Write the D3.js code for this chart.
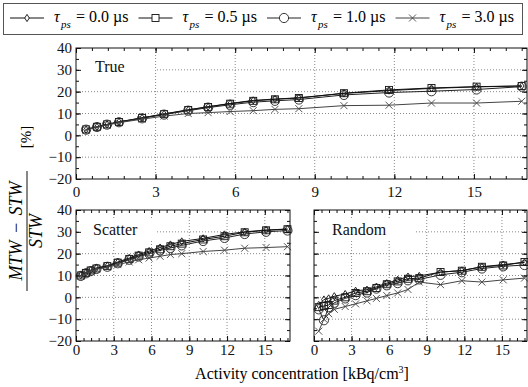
<!DOCTYPE html>
<html>
<head>
<meta charset="utf-8">
<script src="https://cdn.jsdelivr.net/npm/d3@7"></script>
<style>
  html, body { margin: 0; padding: 0; background: #fff; }
  svg { display: block; font-family: "Liberation Serif", "Times New Roman", "DejaVu Serif", serif; }
</style>
</head>
<body>
<svg id="chart" width="528" height="387"></svg>
<script>
// activity concentration [kBq/cm3], shared by all panels
const concentration = [0.38, 0.79, 1.17, 1.62, 2.49, 3.32, 4.23, 4.98, 5.81, 6.68, 7.5, 8.4, 10.1, 11.8, 13.4, 15.1, 16.8];
const tauLabels = ["0.0", "0.5", "1.0", "3.0"];
const xTicks = [0, 3, 6, 9, 12, 15];
const yTicks = [-20, -10, 0, 10, 20, 30, 40];

// True
const true00 = [2.6, 3.9, 5.0, 6.2, 8.0, 9.8, 11.7, 13.1, 14.6, 16.0, 16.6, 17.2, 19.2, 20.5, 21.5, 22.2, 22.6];
const true05 = [2.7, 3.9, 5.0, 6.1, 8.0, 9.7, 11.6, 13.0, 14.5, 15.8, 16.5, 17.1, 19.3, 20.8, 21.7, 22.3, 22.6];
const true10 = [2.6, 3.8, 4.9, 6.0, 7.8, 9.5, 11.3, 12.7, 14.0, 15.2, 15.8, 16.4, 18.5, 19.6, 20.2, 21.0, 22.3];
const true30 = [2.5, 3.7, 4.7, 5.8, 7.4, 8.8, 10.0, 10.4, 10.9, 11.3, 11.9, 12.2, 13.6, 13.8, 14.8, 14.8, 15.6];

// Scatter
const scatter00 = [10.2, 11.4, 12.5, 13.5, 14.5, 16.2, 18.0, 19.6, 21.2, 22.8, 24.2, 25.6, 27.0, 28.8, 30.0, 30.8, 31.3];
const scatter05 = [10.0, 11.2, 12.3, 13.2, 14.3, 15.9, 17.6, 19.1, 20.6, 22.0, 23.4, 24.6, 26.5, 28.0, 29.8, 30.7, 31.2];
const scatter10 = [9.8, 11.0, 12.0, 13.0, 14.0, 15.6, 17.2, 18.7, 20.0, 21.5, 22.6, 23.8, 25.8, 27.2, 29.0, 30.0, 30.6];
const scatter30 = [9.9, 11.0, 12.0, 12.9, 13.8, 15.0, 16.2, 17.2, 18.0, 18.8, 19.6, 20.0, 21.0, 21.6, 22.5, 22.8, 23.2];

// Random
const random00 = [-3.5, -1.0, -0.5, 0.5, 1.5, 3.0, 3.5, 4.8, 6.5, 8.0, 9.5, 9.8, 11.5, 12.3, 14.0, 15.0, 16.0];
const random05 = [-4.5, -4.0, -3.5, -1.5, 0.0, 2.0, 2.8, 4.3, 6.0, 7.3, 8.5, 8.8, 11.6, 12.2, 14.0, 14.6, 16.2];
const random10 = [-5.5, -10.5, -4.5, -2.5, -0.5, 1.0, 2.2, 4.0, 5.5, 6.5, 7.8, 8.2, 10.3, 11.5, 13.2, 14.2, 14.8];
const random30 = [-15.5, -10.0, -7.5, -5.5, -4.2, -3.0, -1.6, -0.5, 0.8, 2.0, 3.6, 7.0, 5.8, 7.6, 7.0, 8.0, 8.8];

const svg = d3.select('#chart');
const serif = '"Liberation Serif", "Times New Roman", serif';

// marker shapes, one per tau
const markers = [
  g => g.append('path').attr('d', 'M0,-3.6L2.3,0L0,3.6L-2.3,0Z'),
  g => g.append('rect').attr('x', -3.5).attr('y', -3.5).attr('width', 7).attr('height', 7),
  g => g.append('circle').attr('r', 4.6),
  g => g.append('path').attr('d', 'M-3.5,-3.5L3.5,3.5M-3.5,3.5L3.5,-3.5')
];
const lineColors = ['#111', '#111', '#222', '#444'];

const panels = [
  { title: 'True', x: [76, 527], y: [179, 48], series: [true00, true05, true10, true30], yLabels: true, labelPad: 7, titlePos: [95, 72], maskW: 60 },
  { title: 'Scatter', x: [76, 290], y: [341, 210], series: [scatter00, scatter05, scatter10, scatter30], yLabels: true, labelPad: 3, titlePos: [93, 235], maskW: 63 },
  { title: 'Random', x: [314, 527], y: [341, 210], series: [random00, random05, random10, random30], yLabels: false, labelPad: 3, titlePos: [332, 235], maskW: 83 }
];

panels.forEach(p => {
  const x = d3.scaleLinear().domain([0, 17]).range(p.x);
  const y = d3.scaleLinear().domain([-20, 40]).range(p.y);
  const g = svg.append('g');

  // dotted grid
  g.selectAll('line.gx').data(xTicks.filter(d => d > 0)).enter().append('line')
    .attr('x1', d => x(d)).attr('x2', d => x(d)).attr('y1', p.y[0]).attr('y2', p.y[1])
    .attr('stroke', '#888').attr('stroke-dasharray', '1,2');
  g.selectAll('line.gy').data(yTicks.filter(d => d > -20 && d < 40)).enter().append('line')
    .attr('y1', d => y(d)).attr('y2', d => y(d)).attr('x1', p.x[0]).attr('x2', p.x[1])
    .attr('stroke', '#888').attr('stroke-dasharray', '1,2');

  // title with white box over the grid
  g.append('rect').attr('x', p.x[0] + 1).attr('y', p.titlePos[1] - 17)
    .attr('width', p.titlePos[0] - p.x[0] + p.maskW - 1).attr('height', 23).attr('fill', '#fff');
  g.append('text').attr('x', p.titlePos[0]).attr('y', p.titlePos[1])
    .attr('font-family', serif).attr('font-size', 16).attr('fill', '#111').text(p.title);

  // axes, ticks pointing inward
  const minorX = d3.range(0, 17.01, 0.6);
  const minorY = d3.range(-20, 40.01, 5);
  const style = sel => {
    sel.attr('font-family', serif);
    sel.select('.domain').remove();
    sel.selectAll('line').attr('stroke', '#111');
    sel.selectAll('text').attr('font-size', 15).attr('fill', '#111');
  };
  g.append('g').attr('transform', `translate(0,${p.y[0]})`)
    .call(d3.axisBottom(x).tickValues(minorX).tickSize(-3).tickFormat('')).call(style);
  g.append('g').attr('transform', `translate(0,${p.y[0]})`)
    .call(d3.axisBottom(x).tickValues(xTicks).tickSize(-5).tickPadding(p.labelPad)).call(style);
  g.append('g').attr('transform', `translate(0,${p.y[1]})`)
    .call(d3.axisTop(x).tickValues(minorX).tickSize(-3).tickFormat('')).call(style);
  g.append('g').attr('transform', `translate(0,${p.y[1]})`)
    .call(d3.axisTop(x).tickValues(xTicks).tickSize(-5).tickFormat('')).call(style);
  g.append('g').attr('transform', `translate(${p.x[0]},0)`)
    .call(d3.axisLeft(y).tickValues(minorY).tickSize(-3).tickFormat('')).call(style);
  g.append('g').attr('transform', `translate(${p.x[0]},0)`)
    .call(d3.axisLeft(y).tickValues(yTicks).tickSize(-5).tickPadding(4).tickFormat(p.yLabels ? d3.format('d') : '')).call(style);
  g.append('g').attr('transform', `translate(${p.x[1]},0)`)
    .call(d3.axisRight(y).tickValues(minorY).tickSize(-3).tickFormat('')).call(style);
  g.append('g').attr('transform', `translate(${p.x[1]},0)`)
    .call(d3.axisRight(y).tickValues(yTicks).tickSize(-5).tickFormat('')).call(style);

  // series
  const line = d3.line().x((d, i) => x(concentration[i])).y(d => y(d));
  p.series.forEach((vals, k) => {
    g.append('path').datum(vals).attr('d', line)
      .attr('fill', 'none').attr('stroke', lineColors[k]).attr('stroke-width', 1);
    vals.forEach((v, i) => {
      const m = g.append('g').attr('transform', `translate(${x(concentration[i])},${y(v)})`)
        .attr('fill', 'none').attr('stroke', lineColors[k]).attr('stroke-width', 0.9);
      markers[k](m);
    });
  });

  // frame
  g.append('rect').attr('x', p.x[0]).attr('y', p.y[1])
    .attr('width', p.x[1] - p.x[0]).attr('height', p.y[0] - p.y[1])
    .attr('fill', 'none').attr('stroke', '#111');
});

// legend
const legend = svg.append('g').attr('font-family', serif);
legend.append('rect').attr('x', 3.5).attr('y', 3.5).attr('width', 519).attr('height', 31)
  .attr('fill', '#fff').attr('stroke', '#555');
tauLabels.forEach((t, k) => {
  const x0 = 10 + k * 128.5;
  const e = legend.append('g').attr('transform', `translate(${x0},0)`);
  e.append('line').attr('x1', 0).attr('x2', 34).attr('y1', 18).attr('y2', 18).attr('stroke', lineColors[k]);
  const m = e.append('g').attr('transform', 'translate(17,18)').attr('fill', '#fff').attr('stroke', lineColors[k]).attr('stroke-width', 0.9);
  markers[k](m);
  e.append('text').attr('x', 44).attr('y', 22).attr('font-size', 16).attr('font-style', 'italic').text('τ');
  e.append('text').attr('x', 51).attr('y', 28).attr('font-size', 11).attr('font-style', 'italic').text('ps');
  e.append('text').attr('x', 66).attr('y', 22).attr('font-size', 16).text(`= ${t} µs`);
});

// y label: fraction
const yl = svg.append('g').attr('font-family', serif).attr('transform', 'translate(27,231) rotate(-90)');
yl.append('text').attr('x', 0).attr('y', -5).attr('text-anchor', 'middle')
  .attr('font-size', 18).attr('font-style', 'italic').attr('word-spacing', 2).text('MTW − STW');
yl.append('line').attr('x1', -60).attr('x2', 60).attr('y1', 0).attr('y2', 0).attr('stroke', '#111');
yl.append('text').attr('x', 0).attr('y', 15).attr('text-anchor', 'middle')
  .attr('font-size', 18).attr('font-style', 'italic').text('STW');
yl.append('text').attr('x', 94).attr('y', 4).attr('text-anchor', 'middle')
  .attr('font-size', 15).text('[%]');

// x label
const xl = svg.append('text').attr('font-family', serif).attr('x', 302).attr('y', 379).attr('text-anchor', 'middle').attr('font-size', 16);
xl.append('tspan').text('Activity concentration [kBq/cm');
xl.append('tspan').attr('dy', -6).attr('font-size', 10).text('3');
xl.append('tspan').attr('dy', 6).text(']');
</script>
</body>
</html>
